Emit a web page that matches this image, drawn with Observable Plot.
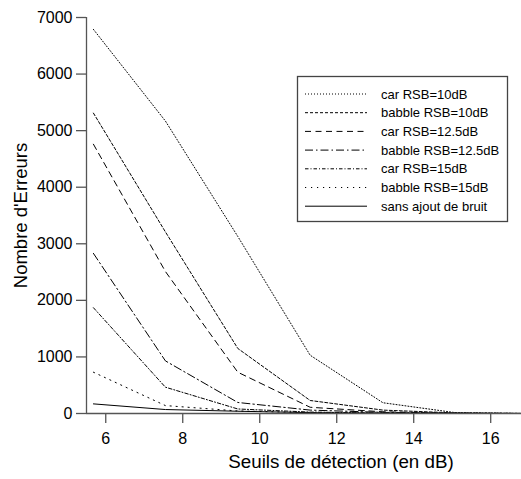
<!DOCTYPE html>
<html>
<head>
<meta charset="utf-8">
<script src="https://cdn.jsdelivr.net/npm/d3@7"></script>
<script src="https://cdn.jsdelivr.net/npm/@observablehq/plot@0.6"></script>
<style>
  html, body { margin: 0; padding: 0; background: #fff; }
  #wrap { position: relative; width: 521px; height: 479px; }
  #legend { position: absolute; left: 0; top: 0; }
</style>
</head>
<body>
<div id="wrap"></div>
<script>
// Detection thresholds (dB)
const thresholds = [5.68, 7.55, 9.43, 11.31, 13.2, 15.08, 16.96];
// Number of errors per series
const carRSB10     = [6790, 5170, 3130, 1030, 190, 15, 0];
const babbleRSB10  = [5310, 3210, 1150, 230, 60, 10, 0];
const carRSB125    = [4760, 2510, 730, 110, 30, 5, 0];
const babbleRSB125 = [2830, 930, 195, 60, 20, 5, 0];
const carRSB15     = [1870, 465, 80, 25, 8, 2, 0];
const babbleRSB15  = [730, 140, 45, 15, 5, 1, 0];
const sansBruit    = [170, 70, 40, 15, 5, 1, 0];

const seriesNames = ["car RSB=10dB", "babble RSB=10dB", "car RSB=12.5dB", "babble RSB=12.5dB", "car RSB=15dB", "babble RSB=15dB", "sans ajout de bruit"];
const seriesValues = [carRSB10, babbleRSB10, carRSB125, babbleRSB125, carRSB15, babbleRSB15, sansBruit];
const dashes = ["1,2", "3,2", "6,4.5", "8,3,1.5,3", "3.5,2,1,2", "1.2,4.8", null];

const xTicks = [6, 8, 10, 12, 14, 16];
const yTicks = [0, 1000, 2000, 3000, 4000, 5000, 6000, 7000];
const xTitle = "Seuils de détection (en dB)";
const yTitle = "Nombre d'Erreurs";

const lineMarks = seriesValues.map((vals, i) => {
  const rows = thresholds.map((t, j) => ({x: t, y: vals[j]}));
  const opts = {x: "x", y: "y", stroke: "#000", strokeWidth: 1, clip: true};
  if (dashes[i]) opts.strokeDasharray = dashes[i];
  return Plot.line(rows, opts);
});

const axisColor = "#555";
const font = "'Liberation Sans', Arial, sans-serif";
const chart = Plot.plot({
  width: 521,
  height: 479,
  marginLeft: 86,
  marginRight: 0,
  marginTop: 17,
  marginBottom: 66,
  style: {fontFamily: font, fontSize: "16px", background: "#fff", color: "#000"},
  x: {domain: [5.5, 16.8]},
  y: {domain: [0, 7000]},
  marks: [
    ...lineMarks,
    Plot.ruleX([5.5], {stroke: axisColor, strokeWidth: 1.3}),
    Plot.ruleY([0], {stroke: axisColor, strokeWidth: 1.3}),
    Plot.axisX(xTicks, {tickSize: 10, tickPadding: 9, stroke: axisColor, strokeWidth: 1.3, label: null, fontSize: 16, fill: "#000", tickFormat: d3.format("d")}),
    Plot.axisY(yTicks, {tickSize: 10, tickPadding: 4, stroke: axisColor, strokeWidth: 1.3, label: null, fontSize: 16, fill: "#000", tickFormat: d3.format("d")}),
    Plot.text([xTitle], {frameAnchor: "bottom", textAnchor: "middle", dy: 54, dx: 37, fontSize: 18.8, fill: "#000"}),
    Plot.text([yTitle], {frameAnchor: "left", textAnchor: "middle", dx: -65, rotate: -90, fontSize: 18.5, fill: "#000"})
  ]
});
document.getElementById("wrap").appendChild(chart);

// Legend box
const lg = d3.select("#wrap").append("svg")
  .attr("id", "legend")
  .attr("width", 521).attr("height", 479)
  .style("pointer-events", "none");
lg.append("rect")
  .attr("x", 297.5).attr("y", 76.5).attr("width", 210).attr("height", 145)
  .attr("fill", "#fff").attr("stroke", "#444").attr("stroke-width", 1.3);
seriesNames.forEach((name, i) => {
  const y = 94 + i * 18.7;
  const l = lg.append("line")
    .attr("x1", 305).attr("x2", 367).attr("y1", y).attr("y2", y)
    .attr("stroke", "#000").attr("stroke-width", 1);
  if (dashes[i]) l.attr("stroke-dasharray", dashes[i]);
  lg.append("text")
    .attr("x", 381).attr("y", y).attr("dy", "0.35em")
    .attr("font-family", font)
    .attr("font-size", 13).attr("fill", "#000")
    .text(name);
});
</script>
</body>
</html>
